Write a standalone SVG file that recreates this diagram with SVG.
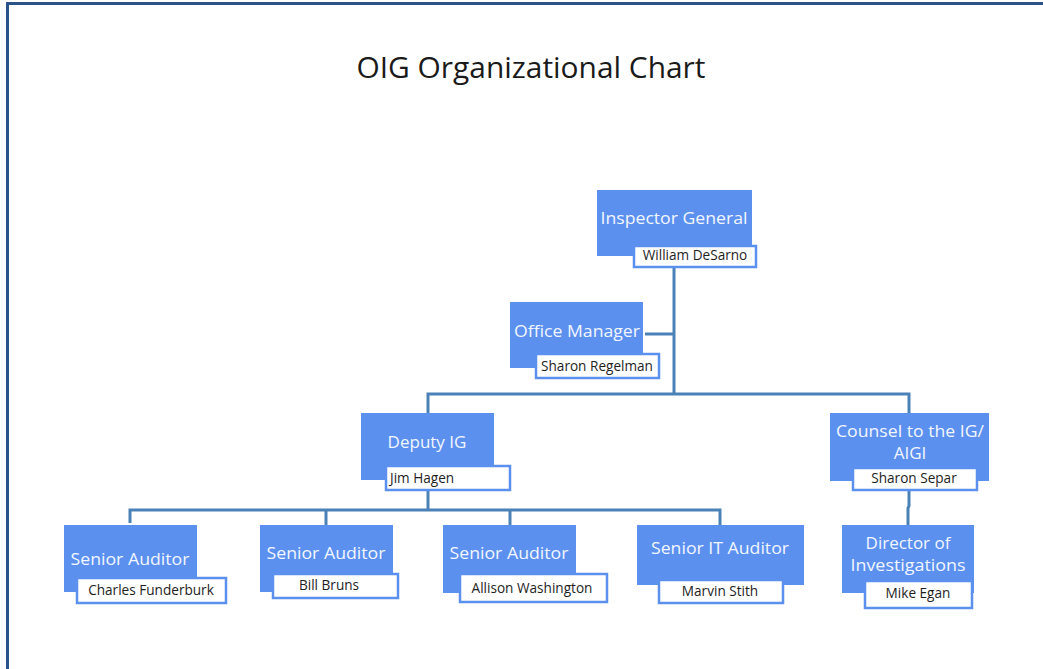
<svg xmlns="http://www.w3.org/2000/svg" width="1043" height="669" viewBox="0 0 1043 669">
<style>
.frame{fill:none;stroke:#2b5289;stroke-width:3}
.box{fill:#5b90ef}
.nb{fill:#ffffff;stroke:#5b90ef;stroke-width:2.5}
.t{font-family:"Open Sans","Liberation Sans",sans-serif;font-size:17px;fill:#f2f6ff;text-anchor:middle}
.n{font-family:"Open Sans","Liberation Sans",sans-serif;font-size:13.6px;fill:#1e1e1e;text-anchor:middle}
.title{font-family:"Open Sans","Liberation Sans",sans-serif;font-size:29px;fill:#1a1a1a;text-anchor:middle}
.c{fill:none;stroke:#4a82b8;stroke-width:3}
</style>
<rect x="0" y="0" width="1043" height="669" fill="#ffffff"/>
<path class="frame" d="M7.5,669 V3.5 H1043"/>
<text class="title" x="531" y="78" textLength="349" lengthAdjust="spacingAndGlyphs">OIG Organizational Chart</text>
<g id="connectors">
<path class="c" d="M674,266 V394"/>
<path class="c" d="M645,334 H674"/>
<path class="c" d="M428,413 V394 H909 V413"/>
<path class="c" d="M428,490 V510"/>
<path class="c" d="M130,523 V510 H720 V525"/>
<path class="c" d="M326,510 V525"/>
<path class="c" d="M510,510 V525"/>
<path class="c" d="M909,490 V506 L908,508 V525"/>
</g>
<g id="inspector-general">
<rect class="box" x="597" y="190" width="155" height="66"/>
<text class="t" x="674" y="224" textLength="147" lengthAdjust="spacingAndGlyphs">Inspector General</text>
<rect class="nb" x="634" y="246" width="122" height="21"/>
<text class="n" x="695" y="260">William DeSarno</text>
</g>
<g id="office-manager">
<rect class="box" x="510" y="302" width="133" height="66"/>
<text class="t" x="577" y="337" textLength="126" lengthAdjust="spacingAndGlyphs">Office Manager</text>
<rect class="nb" x="536" y="354" width="123" height="24"/>
<text class="n" x="597" y="371">Sharon Regelman</text>
</g>
<g id="deputy-ig">
<rect class="box" x="361" y="413" width="133" height="67"/>
<text class="t" x="427" y="448">Deputy IG</text>
<rect class="nb" x="386" y="466" width="124" height="24"/>
<text class="n" x="390" y="483" style="text-anchor:start">Jim Hagen</text>
</g>
<g id="counsel">
<rect class="box" x="830" y="413" width="159" height="68"/>
<text class="t" x="910" y="437" textLength="148" lengthAdjust="spacingAndGlyphs">Counsel to the IG/</text>
<text class="t" x="910" y="459">AIGI</text>
<rect class="nb" x="853" y="468" width="124" height="22"/>
<text class="n" x="914" y="483">Sharon Separ</text>
</g>
<g id="director-investigations">
<rect class="box" x="842" y="525" width="132" height="68"/>
<text class="t" x="908" y="549">Director of</text>
<text class="t" x="908" y="571" textLength="115" lengthAdjust="spacingAndGlyphs">Investigations</text>
<rect class="nb" x="865" y="581" width="107" height="27"/>
<text class="n" x="918" y="598">Mike Egan</text>
</g>
<g id="senior-auditor-1">
<rect class="box" x="64" y="525" width="133" height="67"/>
<text class="t" x="130" y="565" textLength="119" lengthAdjust="spacingAndGlyphs">Senior Auditor</text>
<rect class="nb" x="77" y="578" width="149" height="25"/>
<text class="n" x="151" y="595">Charles Funderburk</text>
</g>
<g id="senior-auditor-2">
<rect class="box" x="260" y="525" width="133" height="67"/>
<text class="t" x="326" y="559" textLength="119" lengthAdjust="spacingAndGlyphs">Senior Auditor</text>
<rect class="nb" x="273" y="574" width="125" height="24"/>
<text class="n" x="329" y="590">Bill Bruns</text>
</g>
<g id="senior-auditor-3">
<rect class="box" x="443" y="525" width="133" height="68"/>
<text class="t" x="509" y="559" textLength="119" lengthAdjust="spacingAndGlyphs">Senior Auditor</text>
<rect class="nb" x="460" y="574" width="147" height="28"/>
<text class="n" x="532" y="593">Allison Washington</text>
</g>
<g id="senior-it-auditor">
<rect class="box" x="637" y="525" width="167" height="60"/>
<text class="t" x="720" y="554" textLength="138" lengthAdjust="spacingAndGlyphs">Senior IT Auditor</text>
<rect class="nb" x="659" y="580" width="124" height="23"/>
<text class="n" x="720" y="596">Marvin Stith</text>
</g>
</svg>
